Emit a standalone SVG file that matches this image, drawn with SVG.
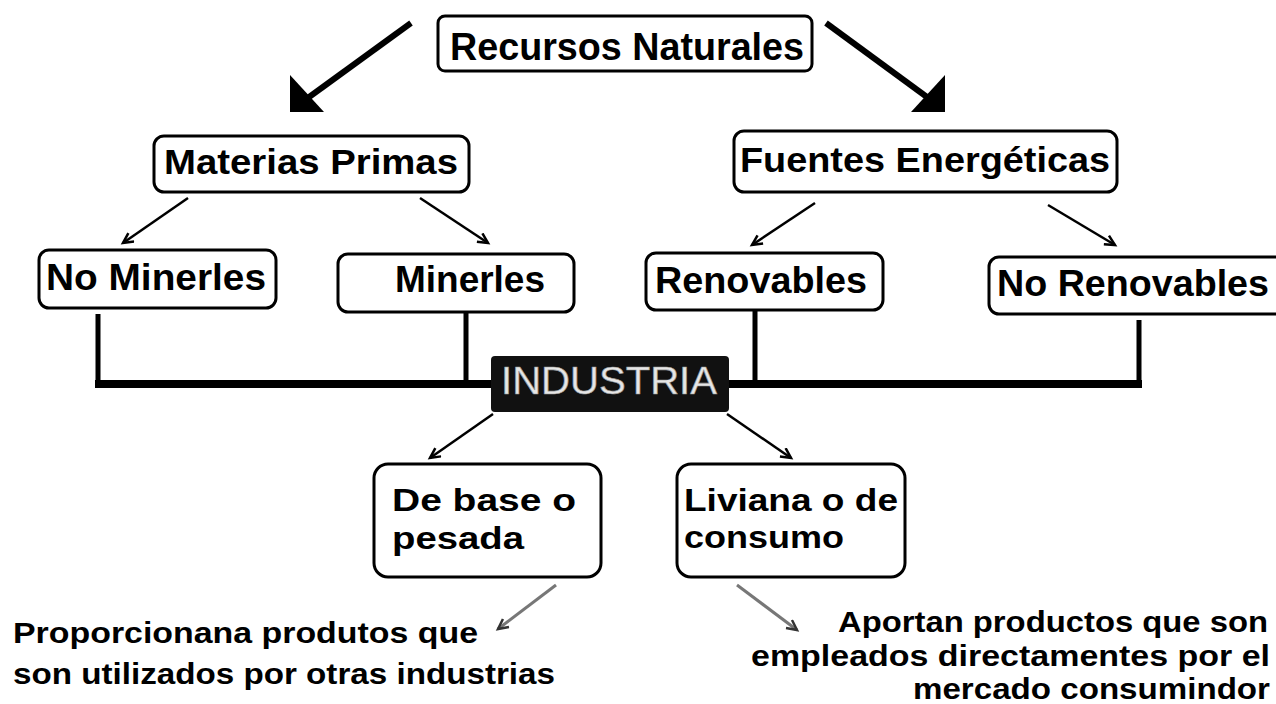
<svg xmlns="http://www.w3.org/2000/svg" width="1276" height="704" viewBox="0 0 1276 704">
<defs>
<style>
.box{fill:#fff;stroke:#000;stroke-width:3}
.lbl{font-family:"Liberation Sans",Arial,sans-serif;font-weight:bold;fill:#000}
.big{stroke:#000;stroke-width:6;fill:none}
.sm{stroke:#000;stroke-width:2.5;fill:none;marker-end:url(#v)}
.gr{stroke:#777;stroke-width:3;fill:none;marker-end:url(#vg)}
.bus{stroke:#000;fill:none}
</style>
<marker id="v" markerUnits="userSpaceOnUse" markerWidth="14" markerHeight="14" refX="11" refY="6" orient="auto"><path d="M1,1 L11,6 L1,11" fill="none" stroke="#000" stroke-width="2.5"/></marker>
<marker id="vg" markerUnits="userSpaceOnUse" markerWidth="14" markerHeight="14" refX="11" refY="6" orient="auto"><path d="M1,1 L11,6 L1,11" fill="none" stroke="#333" stroke-width="2.5"/></marker>
</defs>
<rect width="1276" height="704" fill="#fff"/>

<g id="connectors">
<line class="big" x1="411" y1="23" x2="305" y2="100"/>
<polygon points="290,75 290,112 324,112" fill="#000"/>
<line class="big" x1="826" y1="23" x2="931" y2="100"/>
<polygon points="945,75 945,112 911,112" fill="#000"/>
<line class="sm" x1="188" y1="198" x2="123" y2="243"/>
<line class="sm" x1="420" y1="198" x2="488" y2="243"/>
<line class="sm" x1="815" y1="203" x2="752" y2="245"/>
<line class="sm" x1="1048" y1="205" x2="1115" y2="245"/>
<path class="bus" stroke-width="5" d="M98,314 V384 M466,312 V382 M755,310 V382 M1139,320 V386"/>
<path class="bus" stroke-width="8" d="M95,384 H492 M728,384 H1142"/>
<line class="sm" x1="493" y1="414" x2="430" y2="458"/>
<line class="sm" x1="727" y1="414" x2="791" y2="458"/>
<line class="gr" x1="556" y1="585" x2="498" y2="629"/>
<line class="gr" x1="737" y1="585" x2="797" y2="630"/>
</g>

<g id="recursos">
<rect class="box" x="438" y="16" width="374" height="55" rx="7"/>
<text class="lbl" x="450" y="60" font-size="38" textLength="354" lengthAdjust="spacingAndGlyphs">Recursos Naturales</text>
</g>
<g id="materias">
<rect class="box" x="154" y="136" width="315" height="56" rx="10"/>
<text class="lbl" x="164" y="174" font-size="35" textLength="294" lengthAdjust="spacingAndGlyphs">Materias Primas</text>
</g>
<g id="fuentes">
<rect class="box" x="734" y="131" width="383" height="61" rx="10"/>
<text class="lbl" x="740" y="172" font-size="35" textLength="370" lengthAdjust="spacingAndGlyphs">Fuentes Energéticas</text>
</g>
<g id="nominerles">
<rect class="box" x="39" y="250" width="237" height="58" rx="10"/>
<text class="lbl" x="46" y="290" font-size="36" textLength="220" lengthAdjust="spacingAndGlyphs">No Minerles</text>
</g>
<g id="minerles">
<rect class="box" x="338" y="254" width="236" height="58" rx="10"/>
<text class="lbl" x="395" y="292" font-size="36" textLength="150" lengthAdjust="spacingAndGlyphs">Minerles</text>
</g>
<g id="renovables">
<rect class="box" x="646" y="253" width="237" height="57" rx="10"/>
<text class="lbl" x="655" y="293" font-size="36" textLength="212" lengthAdjust="spacingAndGlyphs">Renovables</text>
</g>
<g id="norenovables">
<rect class="box" x="989" y="257" width="300" height="57" rx="10"/>
<text class="lbl" x="997" y="296" font-size="36" textLength="272" lengthAdjust="spacingAndGlyphs">No Renovables</text>
</g>
<g id="industria">
<rect x="491" y="356" width="238" height="56" rx="4" fill="#111"/>
<text x="501" y="394" font-family="'Liberation Sans',Arial,sans-serif" font-size="38" fill="#e6e6e6" stroke="#999" stroke-width="0.6" textLength="216" lengthAdjust="spacingAndGlyphs">INDUSTRIA</text>
</g>
<g id="debase">
<rect class="box" x="374" y="464" width="227" height="113" rx="14"/>
<text class="lbl" x="392" y="511" font-size="31" textLength="184" lengthAdjust="spacingAndGlyphs">De base o</text>
<text class="lbl" x="392" y="549" font-size="31" textLength="132" lengthAdjust="spacingAndGlyphs">pesada</text>
</g>
<g id="liviana">
<rect class="box" x="677" y="464" width="228" height="113" rx="14"/>
<text class="lbl" x="684" y="511" font-size="31" textLength="214" lengthAdjust="spacingAndGlyphs">Liviana o de</text>
<text class="lbl" x="684" y="548" font-size="31" textLength="160" lengthAdjust="spacingAndGlyphs">consumo</text>
</g>
<g id="desc-left">
<text class="lbl" x="13" y="643" font-size="29" textLength="465" lengthAdjust="spacingAndGlyphs">Proporcionana produtos que</text>
<text class="lbl" x="13" y="684" font-size="29" textLength="542" lengthAdjust="spacingAndGlyphs">son utilizados por otras industrias</text>
</g>
<g id="desc-right">
<text class="lbl" x="838" y="632" font-size="30" textLength="430" lengthAdjust="spacingAndGlyphs">Aportan productos que son</text>
<text class="lbl" x="751" y="666" font-size="30" textLength="519" lengthAdjust="spacingAndGlyphs">empleados directamentes por el</text>
<text class="lbl" x="913" y="699" font-size="30" textLength="357" lengthAdjust="spacingAndGlyphs">mercado consumindor</text>
</g>
</svg>
